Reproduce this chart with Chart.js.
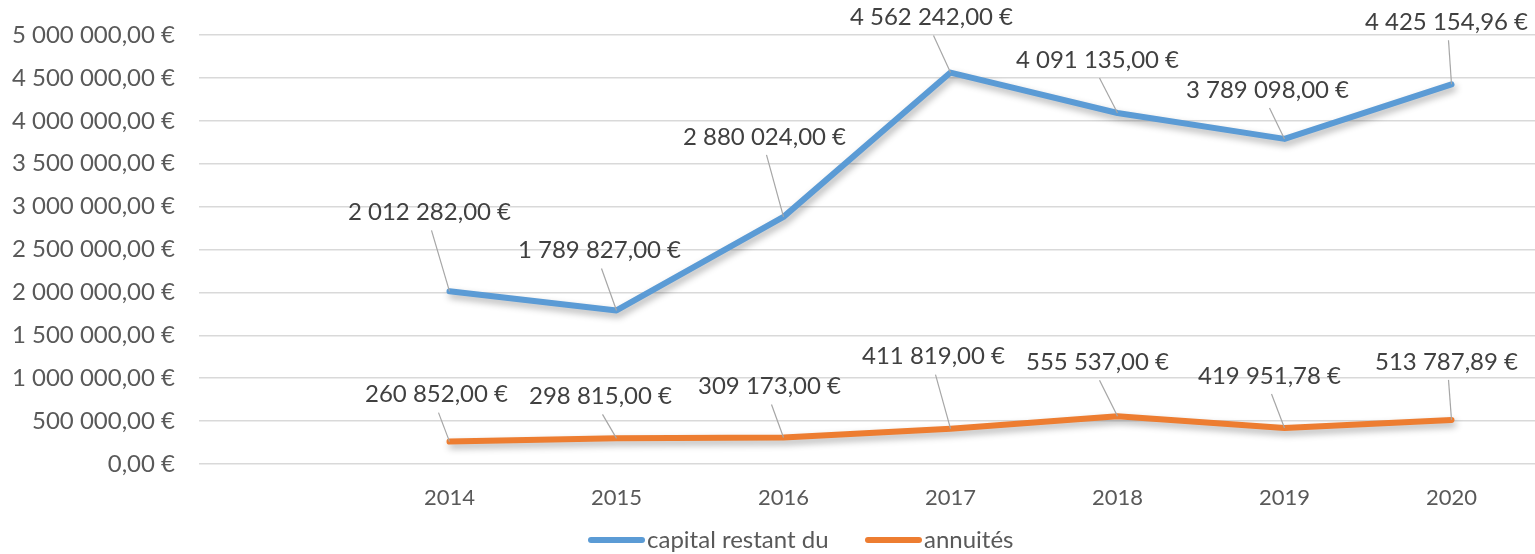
<!DOCTYPE html>
<html>
<head>
<meta charset="utf-8">
<script src="https://cdn.jsdelivr.net/npm/chart.js@4.4.1/dist/chart.umd.min.js"></script>
<style>
  html, body { margin: 0; padding: 0; background: #fff; }
  #wrap { width: 1535px; height: 554px; }
</style>
</head>
<body>
<div id="wrap"><canvas id="lineChart"></canvas></div>
<script>
// data
var years = ["", "2014", "2015", "2016", "2017", "2018", "2019", "2020"];
var capital = [null, 2012282, 1789827, 2880024, 4562242, 4091135, 3789098, 4425154.96];
var annuites = [null, 260852, 298815, 309173, 411819, 555537, 419951.78, 513787.89];
var yMin = 0;
var yMax = 5000000;
var yStep = 500000;

// where each value label sits, relative to its point (px)
var capitalLabelPos = [null, [-20, -79], [-17, -60], [-19, -80], [-19, -55], [-20, -53], [-17, -49], [-5, -62]];
var annuitesLabelPos = [null, [-13, -47], [-16, -42], [-14, -51], [-17, -72], [-20, -54], [-15, -52], [-5, -58]];

var FONT = "Lato, 'Open Sans', sans-serif";

function euro(v) {
  var parts = v.toFixed(2).split(".");
  var whole = parts[0].replace(/\B(?=(\d{3})+(?!\d))/g, " ");
  return whole + "," + parts[1] + " €";
}

var shadowPlugin = {
  id: "lineShadow",
  beforeDatasetDraw: function (chart) {
    var c = chart.ctx;
    c.save();
    c.shadowColor = "rgba(0,0,0,0.3)";
    c.shadowBlur = 7;
    c.shadowOffsetX = 2;
    c.shadowOffsetY = 4;
  },
  afterDatasetDraw: function (chart) {
    chart.ctx.restore();
  },
};

var valueLabels = {
  id: "valueLabels",
  afterDatasetsDraw: function (chart) {
    var c = chart.ctx;
    var positions = [capitalLabelPos, annuitesLabelPos];
    c.save();
    c.font = "24px " + FONT;
    c.textAlign = "center";
    c.textBaseline = "middle";
    chart.data.datasets.forEach(function (ds, di) {
      var meta = chart.getDatasetMeta(di);
      meta.data.forEach(function (pt, i) {
        var v = ds.data[i];
        if (v === null) return;
        var off = positions[di][i];
        var tx = pt.x + off[0];
        var ty = pt.y + off[1];
        c.strokeStyle = "#A6A6A6";
        c.lineWidth = 1.2;
        c.beginPath();
        c.moveTo(tx + 2, ty + 18);
        c.lineTo(pt.x, pt.y);
        c.stroke();
        c.fillStyle = "#404040";
        c.fillText(euro(v), tx, ty);
      });
    });
    c.restore();
  },
};

// legend drawn by hand so the spacing matches
var bottomLegend = {
  id: "bottomLegend",
  afterDraw: function (chart) {
    var c = chart.ctx;
    var items = [
      { x: 591, ds: chart.data.datasets[0] },
      { x: 868, ds: chart.data.datasets[1] },
    ];
    var y = 540;
    c.save();
    c.font = "24px " + FONT;
    c.textBaseline = "middle";
    c.textAlign = "left";
    items.forEach(function (it) {
      c.strokeStyle = it.ds.borderColor;
      c.lineWidth = 6;
      c.lineCap = "round";
      c.beginPath();
      c.moveTo(it.x, y);
      c.lineTo(it.x + 51, y);
      c.stroke();
      c.fillStyle = "#595959";
      c.fillText(it.ds.label, it.x + 56, y);
    });
    c.restore();
  },
};

var ctx = document.getElementById("lineChart").getContext("2d");
var myLineChart = new Chart(ctx, {
  type: "line",
  plugins: [shadowPlugin, valueLabels, bottomLegend],
  data: {
    labels: years,
    datasets: [
      {
        label: "capital restant du",
        data: capital,
        borderColor: "#5B9BD5",
        backgroundColor: "#5B9BD5",
        borderWidth: 6,
        borderCapStyle: "round",
        borderJoinStyle: "round",
        pointRadius: 0,
        tension: 0,
      },
      {
        label: "annuités",
        data: annuites,
        borderColor: "#ED7D31",
        backgroundColor: "#ED7D31",
        borderWidth: 6,
        borderCapStyle: "round",
        borderJoinStyle: "round",
        pointRadius: 0,
        tension: 0,
      },
    ],
  },
  options: {
    responsive: true,
    maintainAspectRatio: false,
    animation: false,
    layout: {
      padding: { top: 35, right: 0, bottom: 34, left: 0 },
    },
    scales: {
      x: {
        offset: true,
        grid: { display: false },
        border: { display: false },
        ticks: {
          color: "#595959",
          font: { family: FONT, size: 22 },
          padding: 13,
          maxRotation: 0,
          autoSkip: false,
        },
        afterFit: function (scale) {
          scale.height = 56;
        },
      },
      y: {
        min: yMin,
        max: yMax,
        border: { display: false },
        grid: { color: "#D9D9D9", lineWidth: 1.5, drawTicks: false },
        ticks: {
          stepSize: yStep,
          color: "#595959",
          font: { family: FONT, size: 24 },
          padding: 24,
          callback: function (v) {
            return euro(v);
          },
        },
        afterFit: function (scale) {
          scale.width = 199;
          scale.paddingTop = 0;
          scale.paddingBottom = 0;
        },
      },
    },
    plugins: {
      tooltip: { enabled: false },
      legend: { display: false },
    },
  },
});
</script>
</body>
</html>
